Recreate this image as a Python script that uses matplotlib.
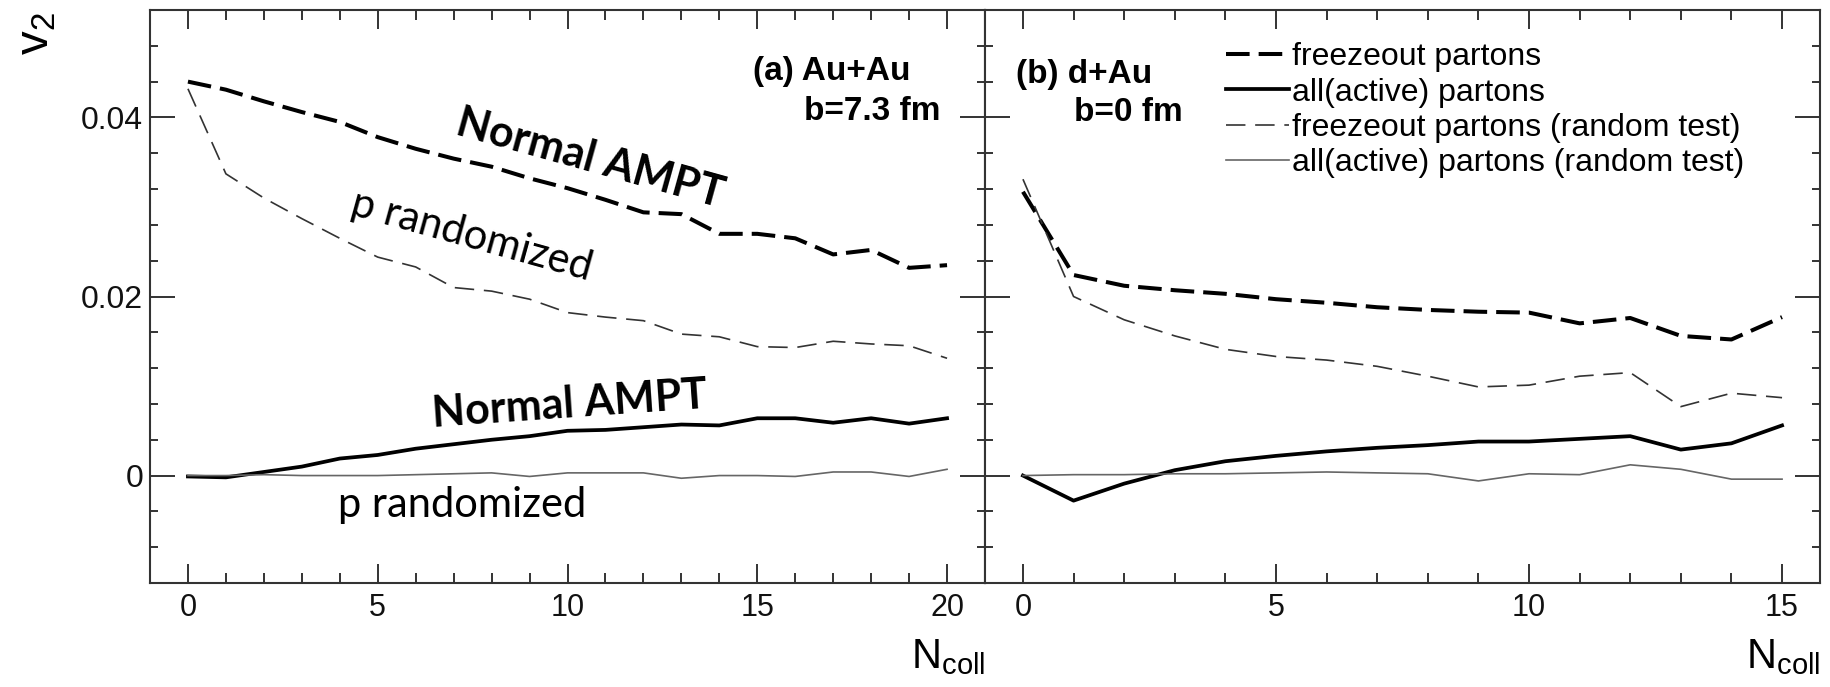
import matplotlib
matplotlib.use("Agg")
import matplotlib.pyplot as plt
from matplotlib.ticker import MultipleLocator, FuncFormatter

# ---------------- data ----------------
ncoll_auau = list(range(21))
auau_freeze = [0.0440, 0.0431, 0.0418, 0.0406, 0.0395, 0.0378, 0.0365, 0.0354, 0.0345, 0.0332,
               0.0321, 0.0308, 0.0294, 0.0292, 0.0270, 0.0270, 0.0265, 0.0247, 0.0252, 0.0232, 0.0235]
auau_freeze_rand = [0.0432, 0.0337, 0.0310, 0.0287, 0.0265, 0.0244, 0.0233, 0.0210, 0.0206, 0.0197,
                    0.0182, 0.0177, 0.0173, 0.0158, 0.0155, 0.0144, 0.0143, 0.0150, 0.0147, 0.0145, 0.0131]
auau_all = [-0.0001, -0.0002, 0.0004, 0.0010, 0.0019, 0.0023, 0.0030, 0.0035, 0.0040, 0.0044,
            0.0050, 0.0051, 0.0054, 0.0057, 0.0056, 0.0064, 0.0064, 0.0059, 0.0064, 0.0058, 0.0064]
auau_all_rand = [0.0, 0.0, 0.0001, 0.0, 0.0, 0.0, 0.0001, 0.0002, 0.0003, -0.0001,
                 0.0003, 0.0003, 0.0003, -0.0003, 0.0, 0.0, -0.0001, 0.0004, 0.0004, -0.0001, 0.0007]

ncoll_dau = list(range(16))
dau_freeze = [0.0317, 0.0224, 0.0212, 0.0207, 0.0203, 0.0197, 0.0193, 0.0188, 0.0185, 0.0183,
              0.0182, 0.0170, 0.0176, 0.0156, 0.0152, 0.0177]
dau_freeze_rand = [0.0331, 0.0200, 0.0174, 0.0156, 0.0141, 0.0133, 0.0129, 0.0122, 0.0111, 0.0099,
                   0.0101, 0.0111, 0.0115, 0.0077, 0.0092, 0.0087]
dau_all = [0.0, -0.0028, -0.0009, 0.0006, 0.0016, 0.0022, 0.0027, 0.0031, 0.0034, 0.0038,
           0.0038, 0.0041, 0.0044, 0.0029, 0.0036, 0.0056]
dau_all_rand = [0.0, 0.0001, 0.0001, 0.0002, 0.0002, 0.0003, 0.0004, 0.0003, 0.0002, -0.0006,
                0.0002, 0.0001, 0.0012, 0.0007, -0.0004, -0.0004]

legend_labels = ["freezeout partons", "all(active) partons",
                 "freezeout partons (random test)", "all(active) partons (random test)"]

# ---------------- style ----------------
plt.rcParams['font.family'] = ['Liberation Sans', 'DejaVu Sans']
plt.rcParams['mathtext.fontset'] = 'custom'
plt.rcParams['mathtext.rm'] = 'Liberation Sans'
plt.rcParams['mathtext.it'] = 'Liberation Sans:italic'
plt.rcParams['lines.scale_dashes'] = False

W, H = 1830, 687
fig = plt.figure(figsize=(W / 100, H / 100), dpi=100)
axL = fig.add_axes([150 / W, 104 / H, 835 / W, 573 / H])
axR = fig.add_axes([985 / W, 104 / H, 835 / W, 573 / H])

thick_dash = dict(color='black', lw=2.9, dashes=(17, 6.5), solid_joinstyle='round', dash_joinstyle='round')
thick_solid = dict(color='black', lw=2.7, solid_joinstyle='round')
thin_dash = dict(color='#333333', lw=1.2, dashes=(14, 7))
thin_solid = dict(color='#666666', lw=1.2)

axL.plot(ncoll_auau, auau_freeze, **thick_dash)
axL.plot(ncoll_auau, auau_all, **thick_solid)
axL.plot(ncoll_auau, auau_freeze_rand, **thin_dash)
axL.plot(ncoll_auau, auau_all_rand, **thin_solid)

h1, = axR.plot(ncoll_dau, dau_freeze, **thick_dash)
h2, = axR.plot(ncoll_dau, dau_all, **thick_solid)
h3, = axR.plot(ncoll_dau, dau_freeze_rand, **thin_dash)
h4, = axR.plot(ncoll_dau, dau_all_rand, **thin_solid)

axL.set_xlim(-1, 21)
axR.set_xlim(-0.75, 15.75)

spine_col = '#333333'
for ax in (axL, axR):
    ax.set_ylim(-0.012, 0.052)
    ax.xaxis.set_major_locator(MultipleLocator(5))
    ax.xaxis.set_minor_locator(MultipleLocator(1))
    ax.yaxis.set_major_locator(MultipleLocator(0.02))
    ax.yaxis.set_minor_locator(MultipleLocator(0.004))
    ax.tick_params(which='both', direction='in', top=True, right=True,
                   color=spine_col, width=1.4, labelcolor='#111111')
    ax.tick_params(axis='x', which='major', length=13.7, labelsize=22, pad=7)
    ax.tick_params(axis='x', which='minor', length=7.5)
    ax.tick_params(axis='y', which='major', length=18, labelsize=23, pad=5)
    ax.tick_params(axis='y', which='minor', length=5.5)
    for s in ax.spines.values():
        s.set_linewidth(1.5)
        s.set_color(spine_col)

axL.yaxis.set_major_formatter(FuncFormatter(lambda v, p: '0' if abs(v) < 1e-9 else f'{v:g}'))
axR.tick_params(axis='y', which='both', labelleft=False)

# panel labels
axL.text(0.816, 0.878, '(a) Au+Au', transform=axL.transAxes, ha='center', va='baseline',
         fontsize=24, fontweight='bold')
axL.text(0.865, 0.808, 'b=7.3 fm', transform=axL.transAxes, ha='center', va='baseline',
         fontsize=24, fontweight='bold')
axR.text(0.1186, 0.872, '(b) d+Au', transform=axR.transAxes, ha='center', va='baseline',
         fontsize=24, fontweight='bold')
axR.text(0.172, 0.806, 'b=0 fm', transform=axR.transAxes, ha='center', va='baseline',
         fontsize=24, fontweight='bold')

# annotations
ann = ['Lato', 'DejaVu Sans']
axL.text(7.0, 0.0381, 'Normal AMPT', family=ann, fontweight='bold', fontsize=31,
         rotation=-15.5, rotation_mode='anchor', ha='left', va='baseline')
axL.text(4.25, 0.0292, 'p randomized', family=ann, fontsize=30,
         rotation=-15.5, rotation_mode='anchor', ha='left', va='baseline')
axL.text(6.45, 0.00545, 'Normal AMPT', family=ann, fontweight='bold', fontsize=31,
         rotation=4, rotation_mode='anchor', ha='left', va='baseline')
axL.text(3.95, -0.0046, 'p randomized', family=ann, fontsize=30,
         ha='left', va='baseline')

# legend
axR.legend([h1, h2, h3, h4], legend_labels, loc='upper left', bbox_to_anchor=(0.2886, 0.944),
           frameon=False, fontsize=23, handlelength=1.97, handletextpad=0.1,
           labelspacing=0.17, borderpad=0, borderaxespad=0)

# axis titles
fig.text(0.0197, 0.9505, r'$\mathregular{v_2}$', rotation=90, ha='center', va='center', fontsize=34)
fig.text(985 / W, (H - 668) / H, r'$\mathregular{N_{coll}}$', ha='right', va='baseline', fontsize=30)
fig.text(1820 / W, (H - 668) / H, r'$\mathregular{N_{coll}}$', ha='right', va='baseline', fontsize=30)

fig.savefig('out.png', dpi=100, facecolor='white')
